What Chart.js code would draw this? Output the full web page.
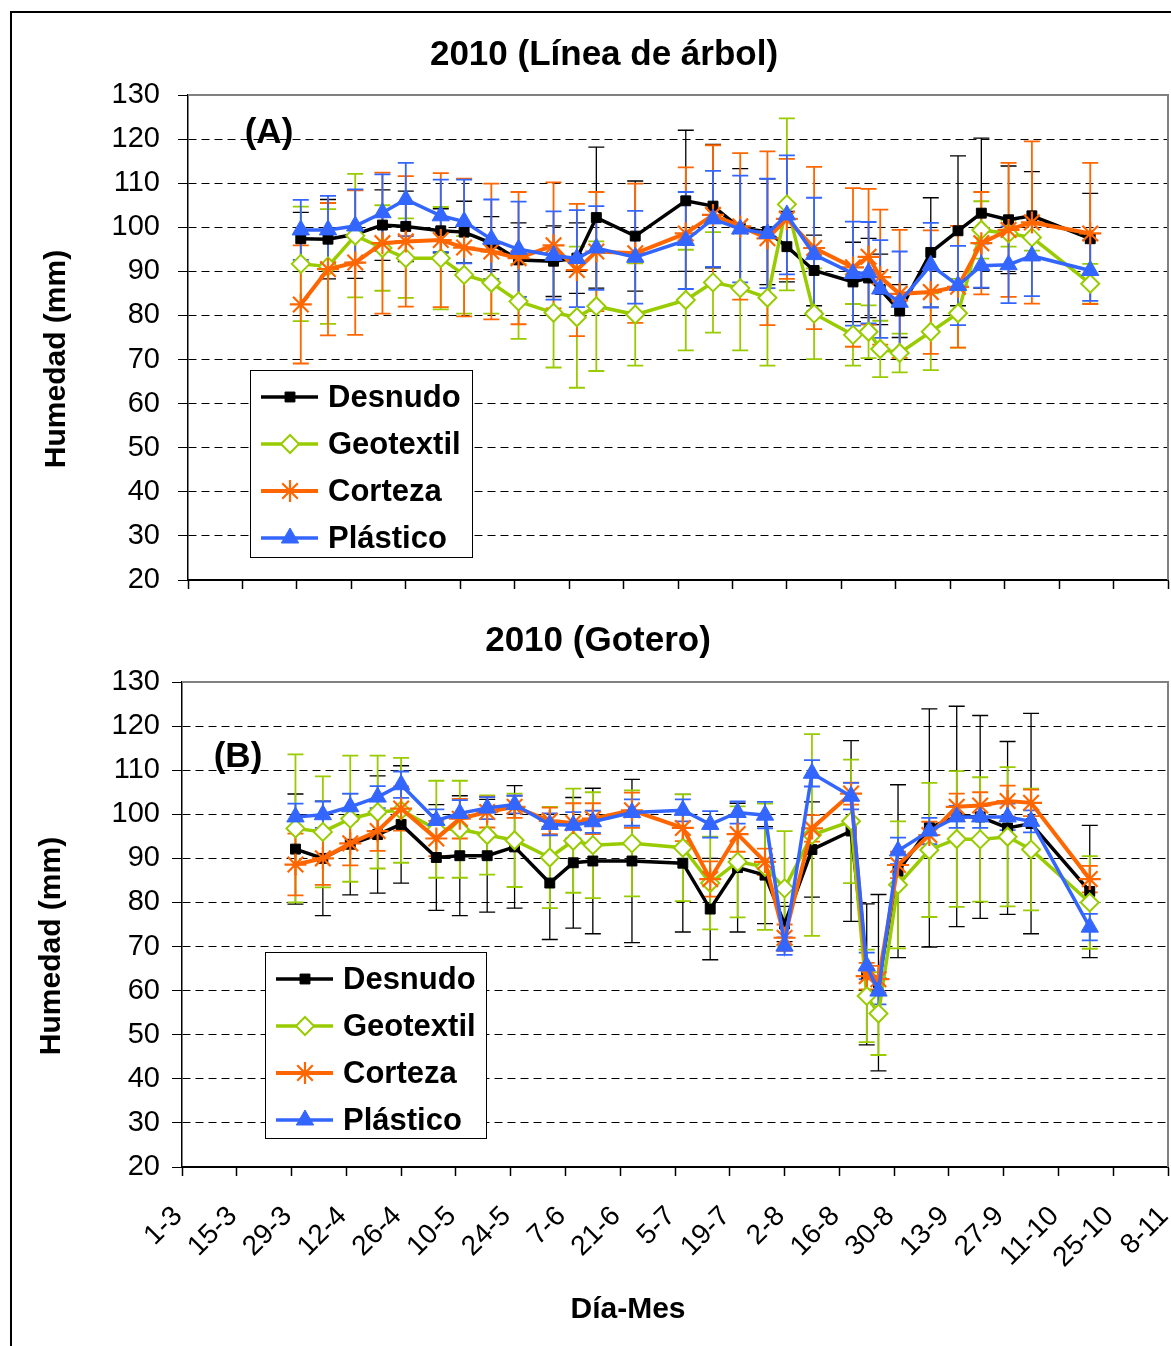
<!DOCTYPE html>
<html>
<head>
<meta charset="utf-8">
<script src="https://cdn.jsdelivr.net/npm/chart.js@4.4.1/dist/chart.umd.min.js"></script>
<style>
  html, body { margin: 0; padding: 0; background: #fff; overflow: hidden; }
  #marco { position: absolute; left: 10px; top: 11px; width: 1250px; height: 1400px; border: 2px solid #000; }
  canvas { position: absolute; left: 0; }
  #graficoA { top: 0; }
  #graficoB { top: 610px; }
</style>
</head>
<body>
<div id="marco"></div>
<canvas id="graficoA" width="1250" height="620"></canvas>
<canvas id="graficoB" width="1250" height="736"></canvas>
<script>
const fuente = "'Liberation Sans', Arial, sans-serif";

// fechas de muestreo (dia-mes, 2010)
const fechas = ['30-3', '6-4', '13-4', '20-4', '26-4', '5-5', '11-5', '18-5', '25-5', '3-6',
    '9-6', '14-6', '24-6', '7-7', '14-7', '21-7', '28-7', '2-8', '9-8', '19-8',
    '23-8', '26-8', '31-8', '8-9', '15-9', '21-9', '28-9', '4-10', '19-10'];

// etiquetas del eje X
const ticksEtiquetas = ['1-3', '15-3', '29-3', '12-4', '26-4', '10-5', '24-5', '7-6', '21-6', '5-7',
    '19-7', '2-8', '16-8', '30-8', '13-9', '27-9', '11-10', '25-10', '8-11'];

const nombres = ['Desnudo', 'Geotextil', 'Corteza', 'Plástico'];

// (A) Linea de arbol
const desnudoA = [97.4, 97.3, 98.4, 100.5, 100.2, 99.2, 98.9, 96.4, 92.6, 92.3, 93.0, 102.2, 98.0, 106.0, 104.8,
    99.8, 99.0, 95.6, 90.2, 87.6, 88.5, 85.9, 81.0, 94.3, 99.2, 103.2, 101.7, 102.6, 97.4];
const geotextilA = [91.7, 91.1, 98.1, 95.3, 93.0, 93.0, 89.2, 87.4, 83.2, 80.6, 79.6, 82.1, 80.2, 83.5, 87.5,
    86.2, 84.0, 105.2, 80.4, 75.6, 76.3, 72.4, 71.5, 76.3, 80.5, 99.4, 98.6, 97.7, 87.2];
const cortezaA = [82.5, 90.5, 92.0, 96.4, 96.8, 97.1, 95.4, 94.5, 93.0, 95.9, 90.3, 94.5, 94.1, 98.6, 102.8,
    100.2, 97.5, 101.9, 95.3, 90.9, 93.3, 88.7, 84.9, 85.3, 86.5, 96.4, 99.4, 101.1, 98.6];
const plasticoA = [99.4, 99.4, 100.3, 103.3, 106.3, 102.6, 101.3, 97.3, 95.0, 93.6, 92.9, 95.3, 93.2, 97.0, 101.9,
    99.6, 98.6, 102.8, 93.8, 89.5, 89.7, 86.0, 83.0, 91.4, 86.8, 91.3, 91.5, 93.5, 90.2];

const errDesnudoA = [6, 9, 10, 8, 8, 5, 7, 6, 8.4, 8, 8, 16, 12.5, 16, 14, 13.5, 12, 8, 8, 9, 9, 8, 6, 12.4,
    17, 17, 12.2, 10, 10.3];
const errGeotextilA = [13, 13, 14, 9.7, 9, 11.6, 8.8, 7, 8.5, 12.4, 16, 14.7, 11.6, 11.4, 11.4, 14.1, 15.4,
    19.5, 10.3, 7, 6, 6.4, 4.4, 8.7, 7.8, 6.5, 3, 3, 4.5];
const errCortezaA = [13.4, 15, 16.4, 16, 14.8, 15.2, 15.6, 15.4, 15, 14.3, 15, 13.5, 15.8, 15, 15.8, 16.6,
    19.7, 13.6, 18.4, 18, 15.4, 15.3, 14.5, 14, 13.8, 11.6, 15.2, 18.4, 16];
const errPlasticoA = [6.8, 7.7, 8.3, 8.7, 8.3, 8.2, 9.5, 9, 10.8, 10, 11, 9.5, 10.5, 11, 10.9, 12.1, 12.4,
    13.5, 12.9, 11.8, 11.5, 11.1, 11.5, 9.6, 9, 5, 8.7, 9.1, 6.9];

// (B) Gotero
const desnudoB = [92.1, 90.0, 93.2, 95.4, 97.7, 90.2, 90.6, 90.6, 92.6, 84.4, 89.0, 89.4, 89.4, 88.9, 78.5,
    87.9, 86.2, 75.1, 92.0, 96.2, 63.7, 61.8, 87.1, 96.9, 99.5, 99.4, 96.9, 97.9, 82.5];
const geotextilB = [96.8, 96.0, 99.0, 100.5, 100.9, 96.6, 96.6, 95.3, 94.1, 90.2, 94.0, 93.0, 93.4, 92.4, 84.4,
    89.2, 88.1, 83.2, 95.3, 98.4, 58.8, 54.8, 84.0, 91.9, 94.4, 94.3, 94.9, 92.0, 80.0];
const cortezaB = [88.6, 90.0, 93.4, 96.2, 101.3, 94.5, 99.0, 100.5, 101.7, 98.5, 98.0, 99.0, 100.9, 96.9, 85.3,
    95.5, 89.2, 72.0, 96.8, 104.7, 63.3, 62.6, 88.5, 95.3, 101.7, 102.0, 103.0, 102.6, 85.3];
const plasticoB = [99.4, 99.9, 101.7, 103.9, 106.7, 98.6, 100.2, 101.4, 102.2, 97.7, 97.5, 98.3, 100.4, 100.9, 97.7,
    100.4, 99.8, 70.1, 109.3, 104.1, 65.6, 59.9, 91.7, 96.2, 99.4, 99.4, 99.4, 98.4, 74.4];

const errDesnudoB = [12.5, 13, 11.5, 13.3, 13.3, 12, 13.6, 12.8, 13.9, 12.8, 14.8, 16.5, 18.5, 15.6, 11.5,
    14.6, 11, 4, 10.8, 20.5, 16, 20, 19.6, 27, 25, 23, 19.6, 25, 15];
const errGeotextilB = [16.8, 12.6, 14.3, 12.8, 11.9, 11, 11, 9, 10.6, 11.5, 11.8, 12, 12, 12.1, 10.5, 12.6,
    14.3, 13, 22.9, 14, 10.5, 9.4, 14.4, 15.2, 15.4, 14.1, 15.8, 13.8, 10.5];
const errCortezaB = [7, 6, 5, 4.5, 5, 4, 4.5, 3.5, 2.5, 3, 4.5, 3.5, 4, 3, 4, 4, 3, 3, 3, 2.5, 3, 3, 3, 3,
    3, 3, 3.5, 3, 3];
const errPlasticoB = [3, 3, 3, 2.5, 3, 2.5, 3, 2.5, 2, 2.5, 3, 2.5, 3, 2.5, 3, 2.5, 3, 2, 3, 3, 3, 3, 3, 3,
    2.5, 2.5, 3, 2.5, 3];

// estilos de cada serie
const estilos = [
    { color: '#000000', punto: 'rect', radio: 7, relleno: '#000000', grosor: 3.5, borde: 1, error: 1.3, orden: 4 },
    { color: '#99cc00', punto: 'rectRot', radio: 9, relleno: '#ffffff', grosor: 3.5, borde: 2, error: 1.8, orden: 3 },
    { color: '#ff6600', punto: 'star', radio: 11, relleno: '#ff6600', grosor: 4, borde: 2.2, error: 1.8, orden: 2 },
    { color: '#3366ff', punto: 'triangle', radio: 10, relleno: '#3366ff', grosor: 3.5, borde: 1, error: 1.8, orden: 1 }
];

function diaDelAnio(f) {
    const [d, m] = f.split('-').map(Number);
    return Math.round((Date.UTC(2010, m - 1, d) - Date.UTC(2010, 0, 0)) / 86400000);
}

function etiquetaDeDia(v) {
    const fecha = new Date(Date.UTC(2010, 0, v));
    return fecha.getUTCDate() + '-' + (fecha.getUTCMonth() + 1);
}

const diasMuestreo = fechas.map(diaDelAnio);
const diasTicks = ticksEtiquetas.map(diaDelAnio);

function crearDatasets(valores, errores) {
    return valores.map((serie, i) => {
        const e = estilos[i];
        return {
            label: nombres[i],
            data: serie.map((v, j) => ({ x: diasMuestreo[j], y: v })),
            errores: errores[i],
            borderColor: e.color,
            backgroundColor: e.relleno,
            borderWidth: e.grosor,
            pointStyle: e.punto,
            pointRadius: e.radio,
            pointBorderWidth: e.borde,
            pointBackgroundColor: e.relleno,
            pointBorderColor: e.color,
            errorGrosor: e.error,
            order: e.orden,
            tension: 0
        };
    });
}

// barras de error dibujadas con la escala Y
const barrasError = {
    id: 'barrasError',
    beforeDatasetsDraw(chart) {
        const { ctx, chartArea, scales: { y } } = chart;
        ctx.save();
        ctx.beginPath();
        ctx.rect(chartArea.left, chartArea.top, chartArea.width, chartArea.height);
        ctx.clip();
        chart.data.datasets.forEach((ds, i) => {
            const meta = chart.getDatasetMeta(i);
            ctx.strokeStyle = ds.borderColor;
            ctx.lineWidth = ds.errorGrosor;
            meta.data.forEach((p, j) => {
                const v = ds.data[j].y;
                const e = ds.errores[j];
                const y1 = y.getPixelForValue(v + e);
                const y2 = y.getPixelForValue(v - e);
                ctx.beginPath();
                ctx.moveTo(p.x, y1); ctx.lineTo(p.x, y2);
                ctx.moveTo(p.x - 8, y1); ctx.lineTo(p.x + 8, y1);
                ctx.moveTo(p.x - 8, y2); ctx.lineTo(p.x + 8, y2);
                ctx.stroke();
            });
        });
        ctx.restore();
    }
};

// marco del area, textos y leyenda
const decoracion = {
    id: 'decoracion',
    afterDraw(chart, args, opts) {
        const { ctx, chartArea: a } = chart;
        ctx.save();
        ctx.strokeStyle = '#808080';
        ctx.lineWidth = 2;
        ctx.beginPath();
        ctx.moveTo(a.left, a.top);
        ctx.lineTo(a.right, a.top);
        ctx.lineTo(a.right, a.bottom);
        ctx.stroke();

        ctx.fillStyle = '#000';
        ctx.textAlign = 'center';
        ctx.textBaseline = 'middle';
        ctx.font = 'bold 35px ' + fuente;
        ctx.fillText(opts.titulo, opts.tituloX, opts.tituloY);
        ctx.fillText(opts.panel, opts.panelX, opts.panelY);

        ctx.font = 'bold 30px ' + fuente;
        if (opts.tituloEjeX) ctx.fillText(opts.tituloEjeX, opts.ejeXX, opts.ejeXY);
        ctx.save();
        ctx.translate(opts.ejeYX, opts.ejeYY);
        ctx.rotate(-Math.PI / 2);
        ctx.fillText('Humedad (mm)', 0, 0);
        ctx.restore();

        // leyenda
        const L = opts.leyenda;
        ctx.fillStyle = '#fff';
        ctx.fillRect(L.x, L.y, L.w, L.h);
        ctx.strokeStyle = '#000';
        ctx.lineWidth = 1;
        ctx.strokeRect(L.x + 0.5, L.y + 0.5, L.w, L.h);
        chart.data.datasets.forEach((ds, i) => {
            const yy = L.y + 27 + i * 47;
            ctx.strokeStyle = ds.borderColor;
            ctx.lineWidth = ds.borderWidth;
            ctx.beginPath();
            ctx.moveTo(L.x + 11, yy);
            ctx.lineTo(L.x + 68, yy);
            ctx.stroke();
            ctx.fillStyle = ds.pointBackgroundColor;
            ctx.lineWidth = ds.pointBorderWidth;
            Chart.helpers.drawPoint(ctx, {
                pointStyle: ds.pointStyle, radius: ds.pointRadius, rotation: 0, borderWidth: ds.pointBorderWidth
            }, L.x + 40, yy);
            ctx.fillStyle = '#000';
            ctx.textAlign = 'left';
            ctx.font = 'bold 31px ' + fuente;
            ctx.fillText(ds.label, L.x + 78, yy + 1);
        });
        ctx.restore();
    }
};

function crearGrafico(id, cfg) {
    return new Chart(document.getElementById(id), {
        type: 'line',
        data: { datasets: crearDatasets(cfg.valores, cfg.errores) },
        plugins: [barrasError, decoracion],
        options: {
            responsive: false,
            animation: false,
            layout: { padding: { top: cfg.arriba, left: 0, right: 82, bottom: 0 } },
            plugins: {
                legend: { display: false },
                title: { display: false },
                tooltip: { enabled: false },
                decoracion: cfg.decor
            },
            scales: {
                x: {
                    type: 'linear',
                    min: diasTicks[0],
                    max: diasTicks[diasTicks.length - 1],
                    afterBuildTicks: s => { s.ticks = diasTicks.map(v => ({ value: v })); },
                    afterFit: s => { s.height = cfg.altoX; },
                    grid: { drawOnChartArea: false, tickLength: 9, tickColor: '#000', tickWidth: 1.5 },
                    border: { color: '#000', width: 2 },
                    ticks: {
                        display: cfg.etiquetasX,
                        autoSkip: false,
                        minRotation: 45,
                        maxRotation: 45,
                        padding: 24,
                        labelOffset: -4,
                        color: '#000',
                        font: { family: fuente, size: 28 },
                        callback: v => etiquetaDeDia(v)
                    }
                },
                y: {
                    min: 20,
                    max: 130,
                    afterFit: s => { s.width = cfg.anchoY; },
                    grid: {
                        color: c => (c.tick && c.tick.value === 130) ? 'rgba(0,0,0,0)' : '#000',
                        lineWidth: 1,
                        tickLength: 10,
                        tickColor: '#000'
                    },
                    border: { color: '#000', width: 1.5, dash: [8, 5] },
                    ticks: {
                        stepSize: 10,
                        padding: cfg.padY,
                        color: '#000',
                        font: { family: fuente, size: 29 }
                    }
                }
            }
        }
    });
}

crearGrafico('graficoA', {
    valores: [desnudoA, geotextilA, cortezaA, plasticoA],
    errores: [errDesnudoA, errGeotextilA, errCortezaA, errPlasticoA],
    arriba: 95, altoX: 40, anchoY: 188, padY: 18, etiquetasX: false,
    decor: {
        titulo: '2010 (Línea de árbol)', tituloX: 604, tituloY: 55,
        panel: '(A)', panelX: 269, panelY: 133,
        ejeYX: 57, ejeYY: 359,
        leyenda: { x: 250, y: 370, w: 222, h: 187 }
    }
});

crearGrafico('graficoB', {
    valores: [desnudoB, geotextilB, cortezaB, plasticoB],
    errores: [errDesnudoB, errGeotextilB, errCortezaB, errPlasticoB],
    arriba: 72, altoX: 179, anchoY: 182, padY: 12, etiquetasX: true,
    decor: {
        titulo: '2010 (Gotero)', tituloX: 598, tituloY: 31,
        panel: '(B)', panelX: 238, panelY: 147,
        ejeYX: 52, ejeYY: 336,
        tituloEjeX: 'Día-Mes', ejeXX: 628, ejeXY: 700,
        leyenda: { x: 265, y: 342, w: 221, h: 186 }
    }
});
</script>
</body>
</html>
